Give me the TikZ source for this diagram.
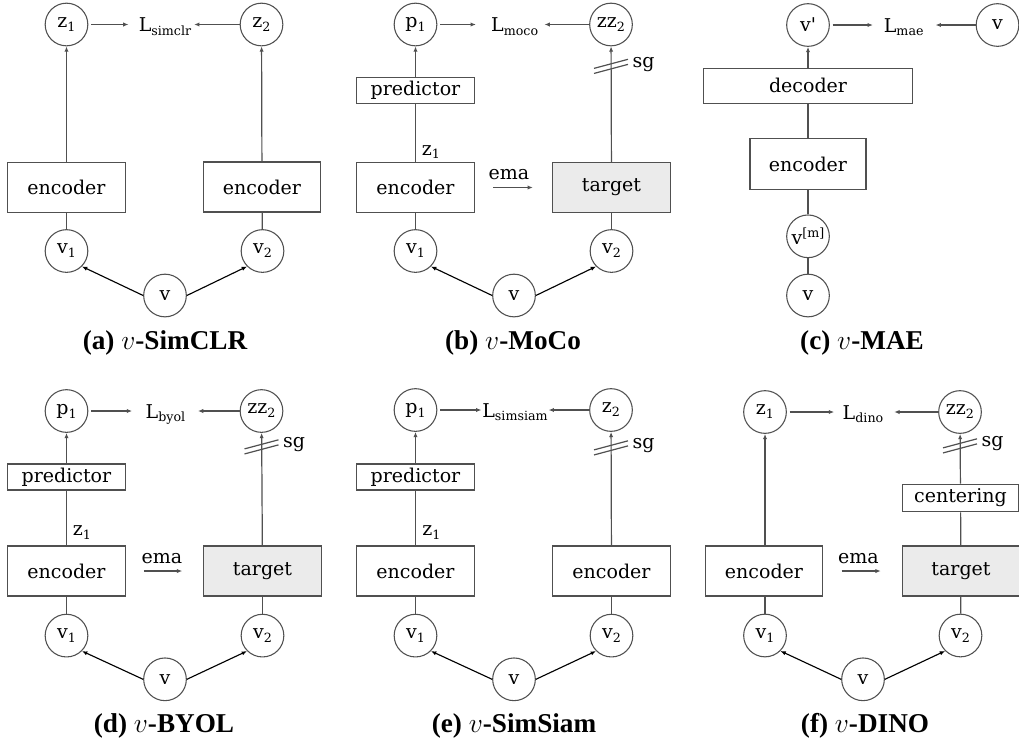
\documentclass[tikz,border=0pt]{standalone}
\usepackage{fontspec}
\setmainfont{Liberation Serif}
\newfontfamily\dvs{DejaVu Serif}
\usetikzlibrary{arrows.meta}
\definecolor{lc}{HTML}{505050}
\definecolor{tg}{HTML}{EBEBEB}
\newcommand\nf{\dvs\fontsize{14.25pt}{17pt}\selectfont}
\newcommand\capfont{\bfseries\fontsize{20.4pt}{24pt}\selectfont}
\newcommand\sbs[1]{\raisebox{-0.4ex}{\fontsize{9.5pt}{10pt}\selectfont #1}}
\newcommand\sps[1]{\raisebox{0.75ex}{\fontsize{9.5pt}{10pt}\selectfont #1}}
\tikzset{
  ln/.style={draw=lc, line width=0.9pt},
  ar/.style={ln, -{Latex[length=4pt,width=3.2pt]}},
  va/.style={draw=black, line width=0.85pt, -{Latex[length=4pt,width=3.2pt]}},
  circ/.style={circle, draw=lc, line width=0.8pt, minimum size=32pt, inner sep=0pt, font=\nf},
  box/.style={rectangle, draw=lc, line width=0.9pt, inner sep=0pt, font=\nf},
  enc/.style={box, minimum width=88pt, minimum height=37.5pt},
  pred/.style={box, minimum width=88.5pt, minimum height=19.5pt},
  tgt/.style={enc, fill=tg},
  lbl/.style={font=\nf, inner sep=0pt},
  captxt/.style={font=\capfont, inner sep=0pt},
}
\begin{document}
\begin{tikzpicture}[x=0.75pt,y=-0.75pt]
\useasboundingbox (0,0) rectangle (1019,740);

% ---------------- (a) v-SimCLR ----------------
\node[circ] (az1) at (66.5,24.5) {z\sbs{1}};
\node[circ] (az2) at (261.5,24.5) {z\sbs{2}};
\node[lbl,anchor=base] (aL) at (165,31.5) {L\sbs{simclr}};
\node[enc] (ae1) at (66.5,187.5) {encoder};
\node[enc] (ae2) at (262,187) {encoder};
\node[circ] (av1) at (66.5,251) {v\sbs{1}};
\node[circ] (av2) at (262.5,251) {v\sbs{2}};
\node[circ] (av) at (165,295.5) {v};
\node[captxt] (acap) at (165,342.5) {(a) $v$-SimCLR};
\draw[ar] (ae1) -- (az1);
\draw[ar] (ae2) -- (az2);
\draw[ln] (ae1) -- (av1);
\draw[ln] (ae2) -- (av2);
\draw[va] (av.west) -- (av1.south east);
\draw[va] (av.east) -- (av2.south west);
\draw[ar, shorten <=2pt, shorten >=7.5pt] (az1) -- (az1 -| aL.west);
\draw[ar, shorten >=2pt] (az2) -- (az2 -| aL.east);

% ---------------- (b) v-MoCo ----------------
\node[circ] (bp1) at (415.5,24.5) {p\sbs{1}};
\node[circ] (bz2) at (611,24.5) {zz\sbs{2}};
\node[lbl,anchor=base] (bL) at (514.7,31.5) {L\sbs{moco}};
\node[pred] (bpr) at (415.5,90.3) {predictor};
\node[enc] (be1) at (415.5,187.5) {encoder};
\node[tgt] (bt) at (611.5,187.5) {target};
\node[circ] (bv1) at (415.5,251) {v\sbs{1}};
\node[circ] (bv2) at (611.5,251) {v\sbs{2}};
\node[circ] (bv) at (514,295.5) {v};
\node[lbl,anchor=south west] (bzl) at ([xshift=4.5pt,yshift=2pt]be1.north) {z\sbs{1}};
\node[captxt] (bcap) at (513,342.5) {(b) $v$-MoCo};
\draw[ln] (be1) -- (bpr);
\draw[ar] (bpr) -- (bp1);
\draw[ar] (bt) -- (bz2);
\draw[ln] (be1) -- (bv1);
\draw[ln] (bt) -- (bv2);
\draw[va] (bv.west) -- (bv1.south east);
\draw[va] (bv.east) -- (bv2.south west);
\draw[ar, shorten <=14pt, shorten >=14.5pt] (be1.east) -- (bt.west)
  node[lbl, midway, above=5pt, xshift=-3.5pt] (bema) {ema};
\coordinate (bsg) at ([yshift=-15pt]bz2.south);
\draw[ln] ([shift={(-12.75pt,-1.5pt)}]bsg) -- ([shift={(12.75pt,5.3pt)}]bsg);
\draw[ln] ([shift={(-12.75pt,-5.3pt)}]bsg) -- ([shift={(12.75pt,1.5pt)}]bsg);
\node[lbl,anchor=west] (bsgl) at ([shift={(16pt,1.5pt)}]bsg) {sg};
\draw[ar, shorten <=2pt, shorten >=11.25pt] (bp1) -- (bp1 -| bL.west);
\draw[ar, shorten >=4.5pt] (bz2) -- (bz2 -| bL.east);

% ---------------- (c) v-MAE ----------------
\node[circ] (cvp) at (808,25) {v'};
\node[lbl,anchor=base] (cL) at (903.7,32) {L\sbs{mae}};
\node[circ] (cv0) at (997.5,25) {v};
\node[box, minimum width=156.3pt, minimum height=26.25pt] (cdec) at (808,85.8) {decoder};
\node[box, minimum width=87pt, minimum height=38.8pt] (cenc) at (808,164) {encoder};
\node[circ] (cvm) at (808,236.3) {v\sps{[m]}};
\node[circ] (cv) at (808,295.5) {v};
\node[captxt] (ccap) at (862,342.5) {(c) $v$-MAE};
\draw[ar] (cdec) -- (cvp);
\draw[ln] (cenc) -- (cdec);
\draw[ln] (cvm) -- (cenc);
\draw[ln] (cv) -- (cvm);
\draw[ar, shorten <=2pt, shorten >=8pt] (cvp) -- (cvp -| cL.west);
\draw[ar, shorten >=8.8pt] (cv0) -- (cv0 -| cL.east);

% ---------------- (d) v-BYOL ----------------
\node[circ] (dp1) at (66.5,411) {p\sbs{1}};
\node[circ] (dz2) at (261.5,411) {zz\sbs{2}};
\node[lbl,anchor=base] (dL) at (165.5,418) {L\sbs{byol}};
\node[pred] (dpr) at (66.5,477) {predictor};
\node[enc] (de1) at (66.5,571) {encoder};
\node[tgt] (dt) at (262.5,571) {target};
\node[circ] (dv1) at (66.5,635.6) {v\sbs{1}};
\node[circ] (dv2) at (262.5,635.6) {v\sbs{2}};
\node[circ] (dv) at (165,679.3) {v};
\node[lbl,anchor=south west] (dzl) at ([xshift=4.5pt,yshift=4pt]de1.north) {z\sbs{1}};
\node[captxt] (dcap) at (164,725.5) {(d) $v$-BYOL};
\draw[ln] (de1) -- (dpr);
\draw[ar] (dpr) -- (dp1);
\draw[ar] (dt) -- (dz2);
\draw[ln] (de1) -- (dv1);
\draw[ln] (dt) -- (dv2);
\draw[va] (dv.west) -- (dv1.south east);
\draw[va] (dv.east) -- (dv2.south west);
\draw[ar, shorten <=13.5pt, shorten >=15.75pt] (de1.east) -- (dt.west)
  node[lbl, midway, above=5pt, xshift=-2pt] (dema) {ema};
\coordinate (dsg) at ([yshift=-10.5pt]dz2.south);
\draw[ln] ([shift={(-12.75pt,-1.5pt)}]dsg) -- ([shift={(12.75pt,5.3pt)}]dsg);
\draw[ln] ([shift={(-12.75pt,-5.3pt)}]dsg) -- ([shift={(12.75pt,1.5pt)}]dsg);
\node[lbl,anchor=west] (dsgl) at ([shift={(16pt,1.5pt)}]dsg) {sg};
\draw[ar, shorten <=2pt, shorten >=10pt] (dp1) -- (dp1 -| dL.west);
\draw[ar, shorten >=9.3pt] (dz2) -- (dz2 -| dL.east);

% ---------------- (e) v-SimSiam ----------------
\node[circ] (ep1) at (415.5,410) {p\sbs{1}};
\node[circ] (ez2) at (611,410) {z\sbs{2}};
\node[lbl,anchor=base] (eL) at (515,417) {L\sbs{simsiam}};
\node[pred] (epr) at (415.5,477) {predictor};
\node[enc] (ee1) at (415.5,571) {encoder};
\node[enc] (ee2) at (611.5,571) {encoder};
\node[circ] (ev1) at (415.5,635.6) {v\sbs{1}};
\node[circ] (ev2) at (611.5,635.6) {v\sbs{2}};
\node[circ] (ev) at (514,679.3) {v};
\node[lbl,anchor=south west] (ezl) at ([xshift=5pt,yshift=4pt]ee1.north) {z\sbs{1}};
\node[captxt] (ecap) at (514,725.5) {(e) $v$-SimSiam};
\draw[ln] (ee1) -- (epr);
\draw[ar] (epr) -- (ep1);
\draw[ar] (ee2) -- (ez2);
\draw[ln] (ee1) -- (ev1);
\draw[ln] (ee2) -- (ev2);
\draw[va] (ev.west) -- (ev1.south east);
\draw[va] (ev.east) -- (ev2.south west);
\coordinate (esg) at ([yshift=-12pt]ez2.south);
\draw[ln] ([shift={(-12.75pt,-1.5pt)}]esg) -- ([shift={(12.75pt,5.3pt)}]esg);
\draw[ln] ([shift={(-12.75pt,-5.3pt)}]esg) -- ([shift={(12.75pt,1.5pt)}]esg);
\node[lbl,anchor=west] (esgl) at ([shift={(16pt,1.5pt)}]esg) {sg};
\draw[ar, shorten <=2pt, shorten >=0.5pt] (ep1) -- (ep1 -| eL.west);
\draw[ar, shorten >=0.5pt] (ez2) -- (ez2 -| eL.east);

% ---------------- (f) v-DINO ----------------
\node[circ] (fz1) at (765,412) {z\sbs{1}};
\node[circ] (fz2) at (960,412) {zz\sbs{2}};
\node[lbl,anchor=base] (fL) at (863,419) {L\sbs{dino}};
\node[enc] (fe1) at (764,571) {encoder};
\node[box, minimum width=86.7pt, minimum height=20.8pt] (fc) at (960.5,498) {centering};
\node[tgt] (ft) at (961,571) {target};
\node[circ] (fv1) at (765,635.5) {v\sbs{1}};
\node[circ] (fv2) at (960.5,635.5) {v\sbs{2}};
\node[circ] (fv) at (863,679.3) {v};
\node[captxt] (fcap) at (865,725.5) {(f) $v$-DINO};
\draw[ar] (fz1 |- fe1.north) -- (fz1);
\draw[ln] (ft) -- (fc);
\draw[ar] (fc) -- (fz2);
\draw[ln] (fe1.south -| fv1) -- (fv1);
\draw[ln] (ft) -- (fv2);
\draw[va] (fv.west) -- (fv1.south east);
\draw[va] (fv.east) -- (fv2.south west);
\draw[ar, shorten <=13.7pt, shorten >=15.75pt] (fe1.east) -- (ft.west)
  node[lbl, midway, above=5pt, xshift=-3pt] (fema) {ema};
\coordinate (fsg) at ([yshift=-9pt]fz2.south);
\draw[ln] ([shift={(-12.75pt,-1.5pt)}]fsg) -- ([shift={(12.75pt,5.3pt)}]fsg);
\draw[ln] ([shift={(-12.75pt,-5.3pt)}]fsg) -- ([shift={(12.75pt,1.5pt)}]fsg);
\node[lbl,anchor=west] (fsgl) at ([shift={(16pt,1.5pt)}]fsg) {sg};
\draw[ar, shorten <=2pt, shorten >=6.2pt] (fz1) -- (fz1 -| fL.west);
\draw[ar, shorten >=8pt] (fz2) -- (fz2 -| fL.east);
\end{tikzpicture}
\end{document}
